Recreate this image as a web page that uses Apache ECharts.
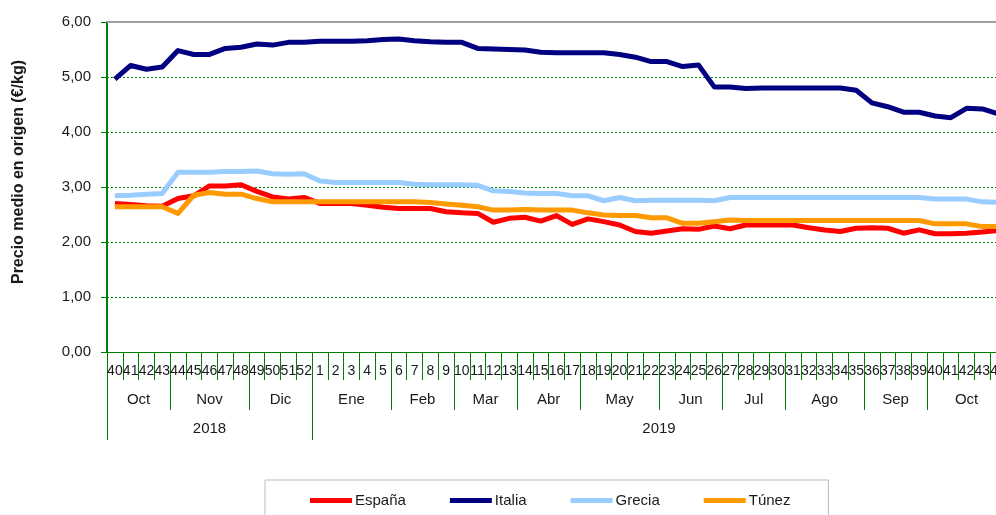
<!DOCTYPE html>
<html>
<head>
<meta charset="utf-8">
<script src="https://cdn.jsdelivr.net/npm/echarts@6/dist/echarts.min.js"></script>
<style>
  html, body { margin: 0; padding: 0; background: #fff; }
  #chart { width: 996px; height: 515px; }
</style>
</head>
<body>
<div id="chart"></div>
<script>
// weeks: 40-52 of 2018, then 1-44 of 2019
var weeks = ['40','41','42','43','44','45','46','47','48','49','50','51','52',
  '1','2','3','4','5','6','7','8','9','10','11','12','13','14','15','16','17','18','19','20',
  '21','22','23','24','25','26','27','28','29','30','31','32','33','34','35','36','37','38',
  '39','40','41','42','43','44'];

var monthNames = ['Oct','Nov','Dic','Ene','Feb','Mar','Abr','May','Jun','Jul','Ago','Sep','Oct'];
var monthWeeks = [4, 5, 4, 5, 4, 4, 4, 5, 4, 4, 5, 4, 5];
var yearNames = ['2018', '2019'];
var yearWeeks = [13, 44];

var espana = [2.70,2.68,2.66,2.65,2.79,2.84,3.02,3.02,3.04,2.92,2.82,2.78,2.81,
  2.70,2.70,2.70,2.67,2.63,2.61,2.61,2.61,2.55,2.53,2.52,2.36,2.43,2.45,2.38,2.48,2.32,2.42,
  2.37,2.31,2.19,2.16,2.20,2.24,2.23,2.29,2.24,2.31,2.31,2.31,2.31,2.26,2.22,2.19,2.25,2.26,
  2.25,2.16,2.22,2.15,2.15,2.16,2.18,2.21];
var italia = [4.96,5.21,5.14,5.18,5.48,5.41,5.41,5.52,5.54,5.60,5.58,5.63,5.63,
  5.65,5.65,5.65,5.66,5.68,5.69,5.66,5.64,5.63,5.63,5.52,5.51,5.50,5.49,5.45,5.44,5.44,5.44,
  5.44,5.41,5.36,5.28,5.28,5.19,5.22,4.82,4.82,4.79,4.80,4.80,4.80,4.80,4.80,4.80,4.76,4.53,
  4.46,4.36,4.36,4.29,4.26,4.43,4.42,4.33];
var grecia = [2.84,2.85,2.87,2.88,3.27,3.27,3.27,3.28,3.28,3.29,3.24,3.23,3.24,
  3.11,3.08,3.08,3.08,3.08,3.08,3.05,3.04,3.04,3.04,3.03,2.93,2.92,2.89,2.88,2.88,2.84,2.84,
  2.75,2.81,2.75,2.76,2.76,2.76,2.76,2.75,2.81,2.81,2.81,2.81,2.81,2.81,2.81,2.81,2.81,2.81,
  2.81,2.81,2.81,2.78,2.78,2.78,2.73,2.72];
var tunez = [2.64,2.64,2.64,2.64,2.52,2.85,2.90,2.87,2.87,2.79,2.73,2.73,2.73,
  2.73,2.73,2.73,2.73,2.73,2.73,2.73,2.72,2.69,2.67,2.64,2.58,2.58,2.59,2.58,2.58,2.58,2.53,
  2.49,2.48,2.48,2.44,2.44,2.34,2.34,2.37,2.40,2.39,2.39,2.39,2.39,2.39,2.39,2.39,2.39,2.39,
  2.39,2.39,2.39,2.33,2.33,2.33,2.28,2.28];

var yTicks = [0, 1, 2, 3, 4, 5, 6];

var green = '#008000';
var textColor = '#1a1a1a';
var font = 'Liberation Sans, Arial, sans-serif';

// group boundaries and label centers (in week units) for the month / year rows
function groups(names, counts) {
  var bounds = [0], centers = [], lookup = {};
  var pos = 0;
  counts.forEach(function (c, i) {
    centers.push(pos + c / 2);
    lookup[pos + c / 2] = names[i];
    pos += c;
    bounds.push(pos);
  });
  return { bounds: bounds, centers: centers, lookup: lookup };
}
var months = groups(monthNames, monthWeeks);
var years = groups(yearNames, yearWeeks);

function groupAxis(g, tickLen, labelMargin) {
  return {
    type: 'value',
    position: 'bottom',
    min: 0,
    max: weeks.length,
    axisLine: { show: false },
    splitLine: { show: false },
    axisTick: {
      show: true,
      length: tickLen,
      customValues: g.bounds,
      lineStyle: { color: green, width: 1 }
    },
    axisLabel: {
      show: true,
      customValues: g.centers,
      margin: labelMargin,
      color: textColor,
      fontSize: 15,
      fontFamily: font,
      formatter: function (v) { return g.lookup[v] || ''; }
    }
  };
}

var chart = echarts.init(document.getElementById('chart'));

function line(name, data, color) {
  return {
    name: name,
    type: 'line',
    data: data,
    xAxisIndex: 0,
    showSymbol: false,
    symbol: 'none',
    lineStyle: { color: color, width: 5, join: 'round' },
    itemStyle: { color: color },
    emphasis: { disabled: true }
  };
}

chart.setOption({
  animation: false,
  backgroundColor: '#fff',
  grid: { left: 107, top: 22, right: -10, bottom: 163, outerBoundsMode: 'none', containLabel: false },
  legend: {
    left: 265,
    top: 480,
    padding: [13, 38, 30, 45],
    itemGap: 44,
    itemWidth: 42,
    itemHeight: 5,
    icon: 'rect',
    borderColor: '#bdbdbd',
    borderWidth: 1,
    backgroundColor: '#fff',
    textStyle: { color: textColor, fontSize: 15, fontFamily: font, padding: [0, 0, 0, -2] },
    data: ['España', 'Italia', 'Grecia', 'Túnez']
  },
  xAxis: [
    {
      type: 'category',
      data: weeks,
      position: 'bottom',
      boundaryGap: true,
      axisLine: { show: true, lineStyle: { color: green, width: 1 } },
      axisTick: { show: true, interval: 0, length: 28, lineStyle: { color: green } },
      axisLabel: { interval: 0, margin: 12, color: textColor, fontSize: 14, fontFamily: font },
      splitLine: { show: false }
    },
    groupAxis(months, 58, 40),
    groupAxis(years, 88, 69),
    {
      type: 'value',
      position: 'top',
      min: 0,
      max: weeks.length,
      axisLine: { show: true, lineStyle: { color: '#a0a0a0', width: 2 } },
      axisTick: { show: false },
      axisLabel: { show: false },
      splitLine: { show: false }
    }
  ],
  yAxis: {
    type: 'value',
    min: yTicks[0],
    max: yTicks[yTicks.length - 1],
    interval: 1,
    name: 'Precio medio en origen (€/kg)',
    nameLocation: 'middle',
    nameGap: 80,
    nameTextStyle: { fontSize: 16, fontWeight: 'bold', color: textColor, fontFamily: font, padding: [0, 0, 0, 30] },
    axisLine: { show: true, lineStyle: { color: green, width: 2 } },
    axisTick: { show: true, length: 6, lineStyle: { color: green } },
    axisLabel: {
      margin: 16,
      color: textColor,
      fontSize: 15,
      fontFamily: font,
      formatter: function (v) { return v.toFixed(2).replace('.', ','); }
    },
    splitLine: { show: true, showMaxLine: false, lineStyle: { color: green, type: [2, 2], width: 1 } }
  },
  series: [
    line('España', espana, '#ff0000'),
    line('Italia', italia, '#000080'),
    line('Grecia', grecia, '#99ccff'),
    line('Túnez', tunez, '#ff9900')
  ]
});
</script>
</body>
</html>
